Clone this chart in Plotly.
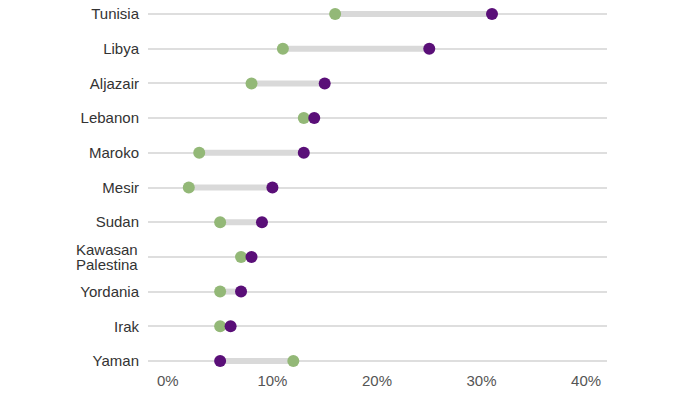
import plotly.graph_objects as go

countries = ["Tunisia", "Libya", "Aljazair", "Lebanon", "Maroko", "Mesir", "Sudan",
             "Kawasan Palestina", "Yordania", "Irak", "Yaman"]
green_vals = [16, 11, 8, 13, 3, 2, 5, 7, 5, 5, 12]
purple_vals = [31, 25, 15, 14, 13, 10, 9, 8, 7, 6, 5]
x_ticks = [0, 10, 20, 30, 40]
x_tick_labels = ["0%", "10%", "20%", "30%", "40%"]

ys = list(range(len(countries)))

bx, by = [], []
for i, (g, p) in enumerate(zip(green_vals, purple_vals)):
    bx += [g, p, None]
    by += [i, i, None]

fig = go.Figure()
fig.add_trace(go.Scatter(x=bx, y=by, mode="lines",
                         line=dict(color="#d9d9d9", width=6), hoverinfo="skip", showlegend=False))
fig.add_trace(go.Scatter(x=green_vals, y=ys, mode="markers",
                         marker=dict(color="#93b877", size=12), showlegend=False))
fig.add_trace(go.Scatter(x=purple_vals, y=ys, mode="markers",
                         marker=dict(color="#5a0f78", size=12), showlegend=False))

# tick labels; multi-word labels drawn as tight two-line annotations
tick_text = [c if " " not in c else "" for c in countries]
for i, c in enumerate(countries):
    if " " in c:
        parts = c.split(" ")
        for k, part in enumerate(parts):
            fig.add_annotation(x=0, xref="paper", y=i, yref="y", text=part,
                               showarrow=False, xanchor="right", yanchor="middle",
                               xshift=-8, yshift=7.5 - 15 * k,
                               font=dict(color="#333", size=15))

fig.update_layout(
    width=700, height=393,
    margin=dict(l=148, r=93, t=5, b=23),
    paper_bgcolor="white", plot_bgcolor="white",
    font=dict(family="Liberation Sans, Arial, sans-serif", size=15, color="#333"),
    xaxis=dict(range=[-1.9, 42], tickvals=x_ticks, ticktext=x_tick_labels,
               showgrid=False, zeroline=False, showline=False, automargin=False,
               tickfont=dict(color="#555", size=15)),
    yaxis=dict(range=[10.26, -0.26], tickvals=ys, ticktext=tick_text,
               showgrid=True, gridcolor="#dedede", gridwidth=1.5, automargin=False,
               zeroline=False, showline=False, ticklabelstandoff=8,
               tickfont=dict(color="#333", size=15)),
)

fig.write_html("out.html", config={"displayModeBar": False},
               post_script="document.body.style.margin='0';document.body.style.overflow='hidden';")
